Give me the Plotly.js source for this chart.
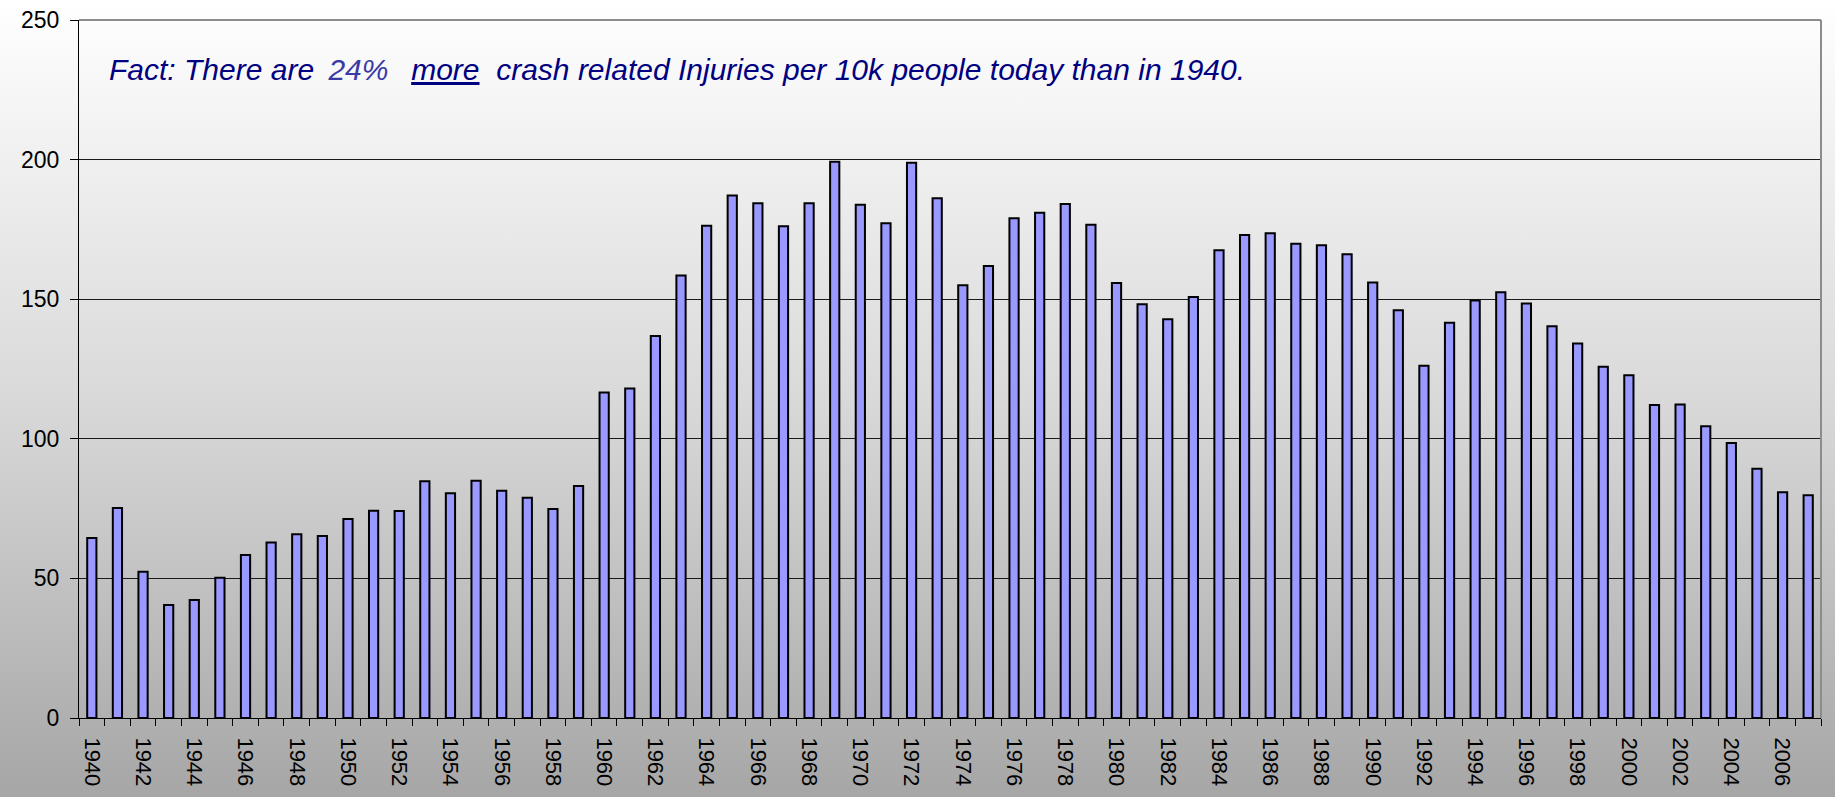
<!DOCTYPE html>
<html>
<head>
<meta charset="utf-8">
<script src="https://cdn.plot.ly/plotly-3.0.1.min.js"></script>
<style>
  html, body { margin: 0; padding: 0; }
  #chart { width: 1835px; height: 797px; background: linear-gradient(to bottom, #ffffff 0%, #d9d9d9 50%, #a6a6a6 100%); }
</style>
</head>
<body>
<div id="chart"></div>
<script>
const years = [1940,1941,1942,1943,1944,1945,1946,1947,1948,1949,
  1950,1951,1952,1953,1954,1955,1956,1957,1958,1959,
  1960,1961,1962,1963,1964,1965,1966,1967,1968,1969,
  1970,1971,1972,1973,1974,1975,1976,1977,1978,1979,
  1980,1981,1982,1983,1984,1985,1986,1987,1988,1989,
  1990,1991,1992,1993,1994,1995,1996,1997,1998,1999,
  2000,2001,2002,2003,2004,2005,2006,2007];

const injuriesPer10k = [64.5,75.2,52.4,40.5,42.3,50.2,58.4,62.9,65.8,65.2,
  71.3,74.2,74.1,84.8,80.5,85.0,81.4,78.9,74.9,83.1,
  116.6,118.0,136.8,158.5,176.3,187.1,184.4,176.1,184.4,199.2,
  183.8,177.2,198.9,186.2,155.0,161.9,179.0,181.0,184.1,176.7,
  155.8,148.2,142.8,150.8,167.5,173.0,173.6,169.9,169.3,166.1,
  156.0,146.0,126.2,141.6,149.5,152.5,148.5,140.3,134.1,125.8,
  122.8,112.1,112.3,104.5,98.5,89.3,80.9,79.8];

const tickYears = [1940,1942,1944,1946,1948,1950,1952,1954,1956,1958,
  1960,1962,1964,1966,1968,1970,1972,1974,1976,1978,
  1980,1982,1984,1986,1988,1990,1992,1994,1996,1998,
  2000,2002,2004,2006];
const tickLabels = tickYears.map(String);

const yTicks = [0,50,100,150,200,250];

const factText = '<i>Fact: There are\u00a0\u2009<span style="color:#3a3aa6">24%</span>\u00a0\u00a0\u2009<u>more</u>\u00a0\u00a0crash related Injuries per 10k people today than in 1940.</i>';

const trace = {
  type: 'bar',
  x: years,
  y: injuriesPer10k,
  width: 0.36,
  marker: { color: '#9999ff', line: { color: '#000000', width: 2 } },
  hoverinfo: 'x+y'
};

const layout = {
  width: 1835,
  height: 797,
  margin: { l: 79, r: 14, t: 20, b: 79, pad: 0 },
  paper_bgcolor: 'rgba(0,0,0,0)',
  plot_bgcolor: 'rgba(0,0,0,0)',
  showlegend: false,
  font: { family: '"Liberation Sans", Arial, sans-serif', color: '#000000' },
  xaxis: {
    type: 'linear',
    range: [1939.5, 2007.5],
    tickmode: 'array',
    tickvals: tickYears,
    ticktext: tickLabels,
    tickangle: 90,
    ticks: '',
    ticklabelstandoff: 14,
    tickfont: { size: 22, color: '#000000' },
    showgrid: false,
    zeroline: false,
    showline: true,
    linecolor: '#000000',
    linewidth: 1,
    minor: { ticks: 'outside', ticklen: 7, tickwidth: 1, tickcolor: '#000000', tick0: 1939.5, dtick: 1, showgrid: false },
    fixedrange: true
  },
  yaxis: {
    range: [0, 250],
    tickmode: 'array',
    tickvals: yTicks,
    ticktext: yTicks.map(String),
    ticks: 'outside',
    ticklen: 8,
    tickwidth: 1,
    tickcolor: '#000000',
    ticklabelstandoff: 6,
    tickfont: { size: 23, color: '#000000' },
    showgrid: true,
    gridcolor: '#1a1a1a',
    gridwidth: 1,
    zeroline: false,
    showline: true,
    linecolor: '#000000',
    linewidth: 1,
    fixedrange: true
  },
  shapes: [
    { type: 'line', xref: 'paper', yref: 'paper', x0: 0, x1: 1, y0: 1, y1: 1, line: { color: '#8c8c8c', width: 2 } },
    { type: 'line', xref: 'paper', yref: 'paper', x0: 1, x1: 1, y0: 0, y1: 1, line: { color: '#8c8c8c', width: 2 } }
  ],
  annotations: [
    {
      xref: 'paper', yref: 'paper',
      x: 0.0158, y: 0.929,
      xanchor: 'left', yanchor: 'middle',
      showarrow: false,
      text: factText,
      font: { size: 30, color: '#000080', family: '"Liberation Sans", Arial, sans-serif' }
    }
  ]
};

Plotly.newPlot('chart', [trace], layout, { displayModeBar: false, staticPlot: true });
</script>
</body>
</html>
